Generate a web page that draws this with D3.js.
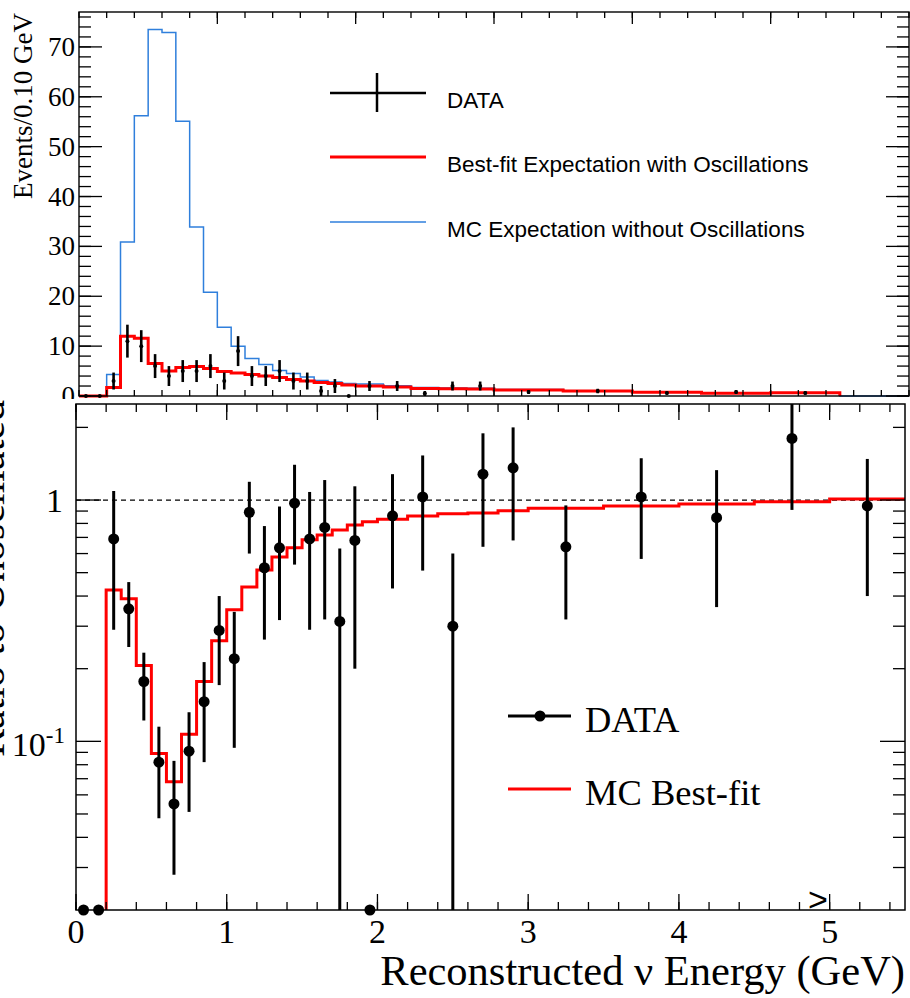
<!DOCTYPE html>
<html>
<head>
<meta charset="utf-8">
<script src="https://cdn.jsdelivr.net/npm/d3@7"></script>
<style>
  body { margin: 0; background: #fff; }
  svg { display: block; }
</style>
</head>
<body>
<svg id="chart" width="910" height="998"></svg>
<script>
// bin edges in GeV (0.1 wide up to 2 GeV, then 0.2, then 0.5)
const binEdges = [0, 0.1, 0.2, 0.3, 0.4, 0.5, 0.6, 0.7, 0.8, 0.9, 1.0, 1.1, 1.2, 1.3, 1.4, 1.5,
  1.6, 1.7, 1.8, 1.9, 2.0, 2.2, 2.4, 2.6, 2.8, 3.0, 3.5, 4.0, 4.5, 5.0, 5.5];

// top panel: events / 0.10 GeV
const topData = [0, 0, 3, 11, 10, 6, 4, 5, 5, 6, 3, 9, 4, 4, 5, 3, 3, 1, 2, 0,
  2.0, 2.0, 0.5, 2.0, 2.0, 0.8, 1.0, 0.6, 0.8, 0.6];
const topDataErr = [0, 0, 1.7, 3.3, 3.2, 2.4, 2.0, 2.2, 2.2, 2.4, 1.7, 3.0, 2.0, 2.0, 2.2, 1.7, 1.7, 1.0, 1.4, 0,
  1.0, 1.0, 0.5, 0.9, 0.9, 0.4, 0.45, 0.35, 0.4, 0.35];
const topBestFit = [0, 0, 1.7, 12.0, 11.6, 6.5, 5.0, 5.7, 5.9, 5.5, 4.9, 4.6, 4.3, 4.0, 3.7, 3.3, 3.0, 2.7, 2.5, 2.2,
  2.0, 1.8, 1.5, 1.45, 1.4, 1.2, 1.0, 0.75, 0.55, 0.65];
const topNoOsc = [0, 0, 4.3, 30.9, 56.2, 73.5, 72.9, 55.1, 33.9, 20.8, 13.8, 10.0, 7.5, 6.3, 5.1, 4.5, 3.8, 3.1, 2.8, 2.5,
  2.4, 2.05, 1.7, 1.62, 1.55, 1.3, 1.06, 0.78, 0.56, 0.66];

// bottom panel: ratio to unoscillated (0 = no events, drawn on the axis)
const ratioData = [0, 0, 0.69, 0.354, 0.177, 0.082, 0.055, 0.091, 0.146, 0.288, 0.22, 0.89, 0.524, 0.634, 0.97,
  0.69, 0.77, 0.314, 0.68, 0, 0.86, 1.03, 0.30, 1.28, 1.36, 0.64, 1.03, 0.845, 1.8, 0.945];
const ratioLow = [0, 0, 0.29, 0.246, 0.122, 0.048, 0.028, 0.051, 0.082, 0.171, 0.094, 0.60, 0.264, 0.318, 0.54,
  0.29, 0.32, 0, 0.20, 0, 0.43, 0.51, 0, 0.64, 0.68, 0.32, 0.57, 0.36, 0.91, 0.40];
const ratioHigh = [0, 0, 1.09, 0.457, 0.233, 0.115, 0.083, 0.132, 0.213, 0.40, 0.344, 1.19, 0.78, 0.94, 1.40,
  1.08, 1.21, 0.63, 1.14, 0, 1.28, 1.53, 0.60, 1.89, 2.0, 0.95, 1.49, 1.33, 2.7, 1.48];
const ratioBestFit = [0, 0, 0.424, 0.39, 0.206, 0.089, 0.068, 0.107, 0.177, 0.261, 0.351, 0.436, 0.513, 0.58, 0.634,
  0.684, 0.716, 0.751, 0.788, 0.813, 0.832, 0.859, 0.878, 0.884, 0.903, 0.924, 0.945, 0.962, 0.984, 1.01];

const topLegend = ["DATA", "Best-fit Expectation with Oscillations", "MC Expectation without Oscillations"];
const ratioLegend = ["DATA", "MC Best-fit"];
const topYTicks = [0, 10, 20, 30, 40, 50, 60, 70];
const ratioXTicks = [0, 1, 2, 3, 4, 5];
const ratioYMajor = [0.1, 1];
const ratioYMinor = [0.03, 0.04, 0.05, 0.06, 0.07, 0.08, 0.09, 0.2, 0.3, 0.4, 0.5, 0.6, 0.7, 0.8, 0.9, 2];

const SERIF = "'Liberation Serif', 'Times New Roman', serif";
const SANS = "'Liberation Sans', Arial, sans-serif";
const RED = "#ff0000";
const BLUE = "#2f7fdc";

const svg = d3.select("#chart");
const centers = binEdges.slice(0, -1).map((e, i) => (e + binEdges[i + 1]) / 2);

function stepPoints(vals) {
  const pts = vals.map((v, i) => [binEdges[i], v]);
  pts.push([binEdges[binEdges.length - 1], vals[vals.length - 1]]);
  return pts;
}

function xTicks(g, scale, vals, y, len) {
  g.selectAll(null).data(vals).enter().append("line")
    .attr("x1", d => scale(d)).attr("x2", d => scale(d))
    .attr("y1", y).attr("y2", y + len)
    .attr("stroke", "#000").attr("stroke-width", 1.3);
}
function yTicks(g, scale, vals, x, len) {
  g.selectAll(null).data(vals).enter().append("line")
    .attr("y1", d => scale(d)).attr("y2", d => scale(d))
    .attr("x1", x).attr("x2", x + len)
    .attr("stroke", "#000").attr("stroke-width", 1.3);
}

// ---------------- top panel ----------------
const tx = d3.scaleLinear().domain([0, 6]).range([79, 909]);
const ty = d3.scaleLinear().domain([0, 77]).range([396, 12]);
const topG = svg.append("g");

const topLine = d3.line().x(d => tx(d[0])).y(d => ty(d[1])).curve(d3.curveStepAfter);

topG.append("path")
  .attr("d", topLine([[0, 0], ...stepPoints(topNoOsc), [5.5, 0], [6, 0]]))
  .attr("fill", "none").attr("stroke", BLUE).attr("stroke-width", 1.5);

topG.append("path")
  .attr("d", topLine([...stepPoints(topBestFit), [5.5, 0]]))
  .attr("fill", "none").attr("stroke", RED).attr("stroke-width", 3);

const topPts = topData.map((v, i) => ({ x: centers[i], v, e: topDataErr[i] }));
topG.selectAll(".terr").data(topPts.filter(d => d.e > 0)).enter().append("line")
  .attr("x1", d => tx(d.x)).attr("x2", d => tx(d.x))
  .attr("y1", d => ty(d.v - d.e)).attr("y2", d => ty(d.v + d.e))
  .attr("stroke", "#000").attr("stroke-width", 2.6);
topG.selectAll(".tdot").data(topPts).enter().append("circle")
  .attr("cx", d => tx(d.x)).attr("cy", d => ty(d.v)).attr("r", 2)
  .attr("fill", "#000");

// frame + ticks
topG.append("rect").attr("x", 79).attr("y", 12).attr("width", 830).attr("height", 384)
  .attr("fill", "none").attr("stroke", "#000").attr("stroke-width", 1.4);
const topMinorX = d3.range(0, 6.01, 0.2);
xTicks(topG, tx, topMinorX, 12, 6);
xTicks(topG, tx, [1, 2, 3, 4, 5], 12, 12);
xTicks(topG, tx, topMinorX, 396, -6);
xTicks(topG, tx, [1, 2, 3, 4, 5], 396, -12);
const topMinorY = d3.range(0, 77, 2);
yTicks(topG, ty, topMinorY, 79, 12);
yTicks(topG, ty, topYTicks, 79, 23);
yTicks(topG, ty, topMinorY, 909, -12);
yTicks(topG, ty, topYTicks, 909, -23);

topG.selectAll(".tyl").data(topYTicks).enter().append("text")
  .attr("x", 75).attr("y", d => ty(d) + 9)
  .attr("text-anchor", "end")
  .attr("font-family", SERIF).attr("font-size", 27)
  .text(d => d);

topG.append("text")
  .attr("transform", "translate(32,13) rotate(-90)")
  .attr("text-anchor", "end")
  .attr("font-family", SERIF).attr("font-size", 27)
  .text("Events/0.10 GeV");

// top legend
const tleg = topG.append("g");
tleg.append("line").attr("x1", 330).attr("x2", 426).attr("y1", 93).attr("y2", 93)
  .attr("stroke", "#000").attr("stroke-width", 2.5);
tleg.append("line").attr("x1", 377).attr("x2", 377).attr("y1", 73).attr("y2", 112)
  .attr("stroke", "#000").attr("stroke-width", 2.5);
tleg.append("line").attr("x1", 330).attr("x2", 426).attr("y1", 157).attr("y2", 157)
  .attr("stroke", RED).attr("stroke-width", 3);
tleg.append("line").attr("x1", 330).attr("x2", 426).attr("y1", 222).attr("y2", 222)
  .attr("stroke", BLUE).attr("stroke-width", 1.5);
tleg.selectAll("text").data(topLegend).enter().append("text")
  .attr("x", 447).attr("y", (d, i) => [108, 172, 237][i])
  .attr("font-family", SANS).attr("font-size", 22.5)
  .text(d => d);

// ---------------- bottom panel ----------------
const rx = d3.scaleLinear().domain([0, 5.5]).range([76, 905]);
const ry = d3.scaleLog().domain([0.02, 2.5]).range([910, 404]);
const yMin = 0.02, yMax = 2.5;
const clampY = v => Math.max(yMin, Math.min(yMax, v));
const bot = svg.append("g");

bot.append("rect").attr("x", 0).attr("y", 399).attr("width", 910).attr("height", 599).attr("fill", "#fff");

bot.append("line").attr("x1", 76).attr("x2", 905).attr("y1", ry(1)).attr("y2", ry(1))
  .attr("stroke", "#000").attr("stroke-width", 1.3).attr("stroke-dasharray", "5,4");

const ratioLine = d3.line().x(d => rx(d[0])).y(d => ry(clampY(d[1]))).curve(d3.curveStepAfter);
const rPts = stepPoints(ratioBestFit).slice(2);
bot.append("path")
  .attr("d", ratioLine([[0.2, yMin], ...rPts]))
  .attr("fill", "none").attr("stroke", RED).attr("stroke-width", 3);

const ratioPts = ratioData.map((v, i) => ({ x: centers[i], v, lo: ratioLow[i], hi: ratioHigh[i] }));
bot.selectAll(".rerr").data(ratioPts.filter(d => d.v > 0)).enter().append("line")
  .attr("x1", d => rx(d.x)).attr("x2", d => rx(d.x))
  .attr("y1", d => ry(clampY(d.lo))).attr("y2", d => ry(clampY(d.hi)))
  .attr("stroke", "#000").attr("stroke-width", 3);
bot.selectAll(".rdot").data(ratioPts).enter().append("circle")
  .attr("cx", d => rx(d.x)).attr("cy", d => ry(clampY(d.v))).attr("r", 5.5)
  .attr("fill", "#000");

bot.append("rect").attr("x", 76).attr("y", 404).attr("width", 829).attr("height", 506)
  .attr("fill", "none").attr("stroke", "#000").attr("stroke-width", 1.5);
const rMinorX = d3.range(0, 5.51, 0.2);
xTicks(bot, rx, rMinorX, 910, -8);
xTicks(bot, rx, ratioXTicks, 910, -16);
xTicks(bot, rx, rMinorX, 404, 8);
xTicks(bot, rx, ratioXTicks, 404, 16);
yTicks(bot, ry, ratioYMinor, 76, 12);
yTicks(bot, ry, ratioYMajor, 76, 25);
yTicks(bot, ry, ratioYMinor, 905, -12);
yTicks(bot, ry, ratioYMajor, 905, -25);

bot.selectAll(".rxl").data(ratioXTicks).enter().append("text")
  .attr("x", d => rx(d)).attr("y", 943)
  .attr("text-anchor", "middle")
  .attr("font-family", SERIF).attr("font-size", 34)
  .text(d => d);

bot.append("text").attr("x", 63).attr("y", ry(1) + 12)
  .attr("text-anchor", "end").attr("font-family", SERIF).attr("font-size", 34)
  .text("1");
const dec = bot.append("text").attr("x", 65).attr("y", ry(0.1) + 15)
  .attr("text-anchor", "end").attr("font-family", SERIF).attr("font-size", 34);
dec.append("tspan").text("10");
dec.append("tspan").attr("dy", -13).attr("font-size", 23).text("-1");

bot.append("text").attr("x", 818).attr("y", 911)
  .attr("text-anchor", "middle").attr("font-family", SANS).attr("font-size", 34)
  .text(">");

bot.append("text").attr("x", 905).attr("y", 985)
  .attr("text-anchor", "end").attr("font-family", SERIF).attr("font-size", 42.5)
  .text("Reconstructed ν Energy (GeV)");

bot.append("text")
  .attr("transform", "translate(4,400) rotate(-90)")
  .attr("text-anchor", "end")
  .attr("font-family", SERIF).attr("font-size", 42)
  .text("Ratio to Unoscillated");

// bottom legend
const bleg = bot.append("g");
bleg.append("line").attr("x1", 508).attr("x2", 571).attr("y1", 716).attr("y2", 716)
  .attr("stroke", "#000").attr("stroke-width", 3);
bleg.append("circle").attr("cx", 540).attr("cy", 716).attr("r", 5.5).attr("fill", "#000");
bleg.append("line").attr("x1", 508).attr("x2", 571).attr("y1", 789).attr("y2", 789)
  .attr("stroke", RED).attr("stroke-width", 3);
bleg.selectAll("text").data(ratioLegend).enter().append("text")
  .attr("x", 585).attr("y", (d, i) => [732, 805][i])
  .attr("font-family", SERIF).attr("font-size", 36.5)
  .text(d => d);
</script>
</body>
</html>
